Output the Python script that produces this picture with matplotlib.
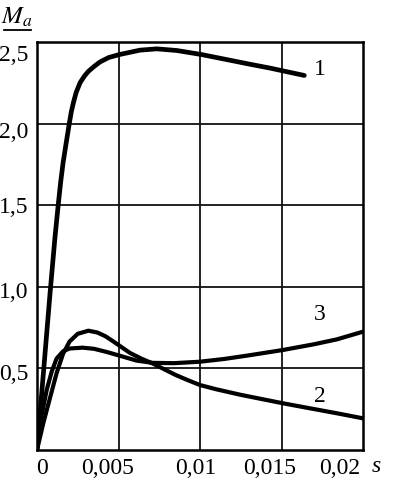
import matplotlib
matplotlib.use('Agg')
import matplotlib.pyplot as plt
import matplotlib.transforms as mtransforms
from matplotlib.lines import Line2D

plt.rcParams['font.family'] = ['Liberation Serif', 'DejaVu Serif']
plt.rcParams['mathtext.fontset'] = 'stix'

# curve 1
t1 = [0, 0.0004, 0.0008, 0.0011, 0.0013, 0.00145, 0.0016, 0.00182, 0.00198, 0.0021,
      0.00223, 0.0024, 0.00264, 0.0029, 0.00315, 0.0035, 0.00387, 0.0044, 0.00505,
      0.00632, 0.00734, 0.00857, 0.0101, 0.0115, 0.0130, 0.0143, 0.0164]
m1 = [0, 0.48, 0.96, 1.30, 1.50, 1.64, 1.76, 1.90, 2.00, 2.07,
      2.127, 2.19, 2.25, 2.29, 2.32, 2.35, 2.378, 2.405, 2.423,
      2.45, 2.458, 2.448, 2.423, 2.395, 2.365, 2.34, 2.295]

# curve 2
t2 = [0, 0.0004, 0.0008, 0.0012, 0.0016, 0.002, 0.0025, 0.00315, 0.0037, 0.0042,
      0.0047, 0.0057, 0.0064, 0.0071, 0.0078, 0.0085, 0.0092, 0.0100, 0.0110,
      0.0125, 0.0140, 0.0151, 0.0165, 0.0184, 0.0200]
m2 = [0, 0.17, 0.32, 0.47, 0.59, 0.665, 0.712, 0.731, 0.72, 0.697,
      0.664, 0.595, 0.56, 0.53, 0.495, 0.46, 0.43, 0.398, 0.372,
      0.338, 0.308, 0.286, 0.26, 0.225, 0.194]

# curve 3
t3 = [0, 0.0003, 0.0006, 0.0009, 0.0012, 0.0016, 0.002, 0.0028, 0.0035, 0.0043,
      0.0051, 0.0061, 0.0071, 0.0084, 0.0100, 0.0115, 0.0130, 0.0151, 0.0170,
      0.0184, 0.0200]
m3 = [0, 0.22, 0.37, 0.48, 0.56, 0.605, 0.622, 0.627, 0.62, 0.60,
      0.577, 0.548, 0.534, 0.532, 0.541, 0.558, 0.58, 0.613, 0.648,
      0.678, 0.725]

x_ticks = [0, 0.005, 0.01, 0.015, 0.02]
x_labels = ['0', '0,005', '0,01', '0,015', '0,02']
y_ticks = [0.5, 1.0, 1.5, 2.0, 2.5]
y_labels = ['0,5', '1,0', '1,5', '2,0', '2,5']

curve_names = ['1', '2', '3']
name_x = [0.01736, 0.01736, 0.01736]
name_y = [2.33, 0.33, 0.83]

fig = plt.figure(figsize=(3.93, 4.91), dpi=100)
ax = fig.add_axes([37/393, 41/491, 326/393, 408/491])

ax.set_xlim(0, 0.02)
ax.set_ylim(0, 2.5)

for v in x_ticks[1:-1]:
    ax.axvline(v, color='#111111', linewidth=1.3, zorder=1)
for v in y_ticks[:-1]:
    ax.axhline(v, color='#111111', linewidth=1.3, zorder=1)

ax.plot(t1, m1, color='black', linewidth=3.4, solid_capstyle='round',
        solid_joinstyle='round', zorder=3)
ax.plot(t2, m2, color='black', linewidth=3.0, solid_capstyle='round',
        solid_joinstyle='round', zorder=3)
ax.plot(t3, m3, color='black', linewidth=3.0, solid_capstyle='round',
        solid_joinstyle='round', zorder=3)

for spine in ax.spines.values():
    spine.set_linewidth(1.8)

ax.set_xticks(x_ticks)
ax.set_xticklabels(x_labels, fontsize=17)
ax.set_yticks(y_ticks)
ax.set_yticklabels(y_labels, fontsize=17)
ax.tick_params(length=0, pad=6)

# hand-set shifts of tick labels as in the printed figure
x_shift = [5, -11, -4, -12, -23]
for lab, dx in zip(ax.get_xticklabels(), x_shift):
    lab.set_transform(lab.get_transform() +
                      mtransforms.ScaledTranslation(dx/100, 0, fig.dpi_scale_trans))
y_shift = [-4, -3, 0, -6, -11]
for lab, dy in zip(ax.get_yticklabels(), y_shift):
    lab.set_transform(lab.get_transform() +
                      mtransforms.ScaledTranslation(0, dy/100, fig.dpi_scale_trans))

for name, x, y in zip(curve_names, name_x, name_y):
    ax.text(x, y, name, fontsize=17, ha='center', va='center')

fig.text(376/393, 1 - 466/491, 's', fontsize=17, style='italic', ha='center', va='center')
fig.text(17/393, 1 - 17/491, r'$M_a$', fontsize=18, ha='center', va='center')
fig.add_artist(Line2D([4/393, 31/393], [1 - 30/491, 1 - 30/491], color='black', linewidth=1.3))

fig.savefig('out.png', dpi=100, facecolor='white')
